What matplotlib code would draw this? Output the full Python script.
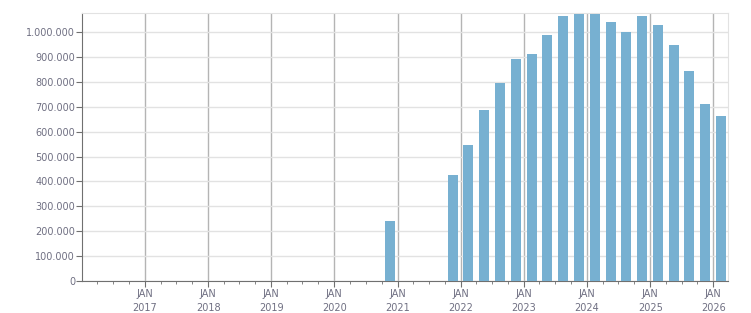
import datetime as dt
import matplotlib
matplotlib.use("Agg")
import matplotlib.pyplot as plt
import matplotlib.dates as mdates
from matplotlib.ticker import FuncFormatter

# quarterly values (quarter start dates)
quarters = ["2020-10-01", "2021-10-01",
            "2022-01-01", "2022-04-01", "2022-07-01", "2022-10-01",
            "2023-01-01", "2023-04-01", "2023-07-01", "2023-10-01",
            "2024-01-01", "2024-04-01", "2024-07-01", "2024-10-01",
            "2025-01-01", "2025-04-01", "2025-07-01", "2025-10-01",
            "2026-01-01"]
values = [242000, 425000,
          545000, 689000, 797000, 893000,
          913000, 989000, 1065000, 1073000,
          1073000, 1041000, 1001000, 1065000,
          1029000, 949000, 845000, 713000,
          665000]
y_ticks = list(range(0, 1000001, 100000))
years = list(range(2017, 2027))

bar_color = "#77b0d1"
text_color = "#6f6f82"

# centre each bar in its quarter
centres = []
for q in quarters:
    d = dt.datetime.strptime(q, "%Y-%m-%d")
    m = d.month + 3
    end = dt.datetime(d.year + (m > 12), (m - 1) % 12 + 1, 1)
    centres.append(mdates.date2num(d) + (mdates.date2num(end) - mdates.date2num(d)) / 2)

fig = plt.figure(figsize=(7.51, 3.13), dpi=100)
ax = fig.add_axes([0.1092, 0.1022, 0.8602, 0.8553])

ax.bar(centres, values, width=58, color=bar_color, zorder=3)

ax.set_xlim(mdates.date2num(dt.datetime(2016, 1, 3)), mdates.date2num(dt.datetime(2026, 3, 27)))
ax.set_ylim(0, 1076000)

ax.set_yticks(y_ticks)
ax.yaxis.set_major_formatter(FuncFormatter(lambda v, p: f"{int(v):,}".replace(",", ".")))

ax.set_xticks([mdates.date2num(dt.datetime(y, 1, 1)) for y in years])
ax.set_xticklabels([f"JAN\n{y}" for y in years])
ax.xaxis.set_minor_locator(mdates.MonthLocator(bymonth=[4, 7, 10]))

ax.grid(axis="y", color="#e2e2e2", linewidth=1, zorder=0)
ax.grid(axis="x", which="major", color="#b4b4b4", linewidth=1, zorder=0)

for s in ["top", "right"]:
    ax.spines[s].set_color("#e2e2e2")
for s in ["left", "bottom"]:
    ax.spines[s].set_color("#707070")

ax.tick_params(axis="y", length=4, color="#707070", labelcolor=text_color, labelsize=7, pad=1)
ax.tick_params(axis="x", which="major", length=4, color="#707070", labelcolor=text_color, labelsize=7, pad=2)
ax.tick_params(axis="x", which="minor", length=2.5, color="#707070")
for lab in ax.get_xticklabels():
    lab.set_linespacing(1.5)

fig.savefig("out.png", dpi=100)
